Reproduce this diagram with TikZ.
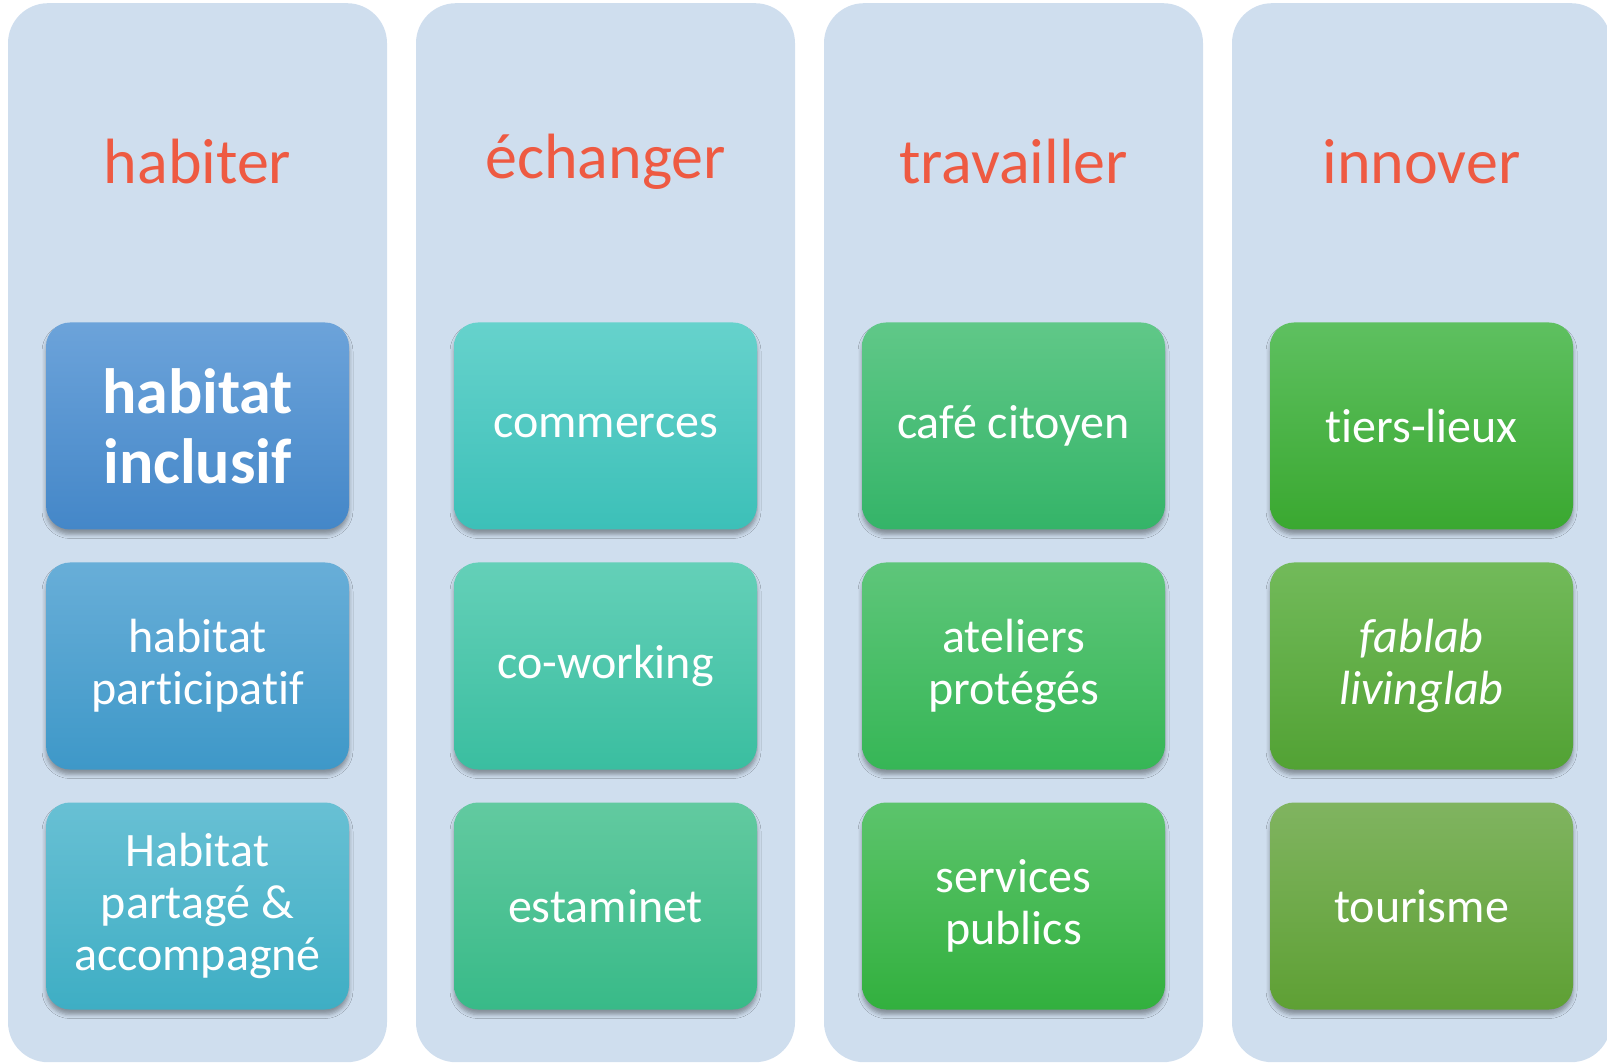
\documentclass[tikz,border=0pt]{standalone}
\usepackage{fontspec}
\setmainfont{Carlito}[RawFeature={-liga;-clig;-calt;-dlig}]
\usepackage{tikz}
\usetikzlibrary{shadows.blur}
\usepackage{xcolor}
\definecolor{fond}{HTML}{CFDEEE}
\definecolor{rouge}{HTML}{EE5A42}
\definecolor{hab1-haut}{HTML}{6CA3DA}\definecolor{hab1-bas}{HTML}{4487C8}
\definecolor{hab2-haut}{HTML}{68AED8}\definecolor{hab2-bas}{HTML}{3E98C8}
\definecolor{hab3-haut}{HTML}{68C0D4}\definecolor{hab3-bas}{HTML}{3EAEC4}
\definecolor{ech1-haut}{HTML}{66D2CC}\definecolor{ech1-bas}{HTML}{3CC0B8}
\definecolor{ech2-haut}{HTML}{64D0B8}\definecolor{ech2-bas}{HTML}{3ABEA0}
\definecolor{ech3-haut}{HTML}{62CAA0}\definecolor{ech3-bas}{HTML}{38BA88}
\definecolor{tra1-haut}{HTML}{60C888}\definecolor{tra1-bas}{HTML}{34B468}
\definecolor{tra2-haut}{HTML}{5EC67A}\definecolor{tra2-bas}{HTML}{36B656}
\definecolor{tra3-haut}{HTML}{5CC46C}\definecolor{tra3-bas}{HTML}{32B03E}
\definecolor{inn1-haut}{HTML}{5EC060}\definecolor{inn1-bas}{HTML}{3AA830}
\definecolor{inn2-haut}{HTML}{72BA5A}\definecolor{inn2-bas}{HTML}{52A234}
\definecolor{inn3-haut}{HTML}{80B460}\definecolor{inn3-bas}{HTML}{5EA034}
\tikzset{
    panneau/.style={fill=fond,rounded corners=20pt,minimum width=189.5pt,minimum height=529.5pt},
    titre/.style={text=rouge,font=\fontsize{32}{38}\selectfont},
    bloc/.style={rounded corners=12pt,minimum width=151.5pt,minimum height=103.5pt,
        text=white,align=center,font=\fontsize{24}{26}\selectfont,
        blur shadow={shadow xshift=0pt,shadow yshift=-2.5pt,shadow blur radius=2pt,shadow opacity=35}},
}
% x, nom, titre
\newcommand{\colonne}[3] {
    \node[panneau] (col-#2) at (#1,532.7) {};
    \node[titre] (titre-#2) at (#1,162) {#3};
}
% [style], nom, x, y, texte
\newcommand{\bloc}[5][] {
    \node[bloc,top color=#2-haut,bottom color=#2-bas,#1] (#2) at (#3,#4) {#5};
}

\begin{document}
\begin{tikzpicture}[x=0.5pt,y=-0.5pt]
        \useasboundingbox (0,0) rectangle (1607,1063);
        \colonne{197.5}{hab}{habiter};
        \colonne{605.5}{ech}{échanger};
        \colonne{1013.5}{tra}{travailler};
        \colonne{1421.5}{inn}{innover};
        \bloc[font=\fontsize{32}{35}\selectfont\bfseries]{hab1}{197.5}{426}{habitat\\inclusif};
        \bloc{hab2}{197.5}{666}{habitat\\participatif};
        \bloc{hab3}{197.5}{906}{Habitat\\partagé \&\\accompagné};
        \bloc{ech1}{605.5}{426}{commerces};
        \bloc{ech2}{605.5}{666}{co-working};
        \bloc{ech3}{605.5}{906}{estaminet};
        \bloc{tra1}{1013.5}{426}{café citoyen};
        \bloc{tra2}{1013.5}{666}{ateliers\\protégés};
        \bloc{tra3}{1013.5}{906}{services\\publics};
        \bloc{inn1}{1421.5}{426}{tiers-lieux};
        \bloc[font=\fontsize{24}{26}\selectfont\itshape]{inn2}{1421.5}{666}{fablab\\livinglab};
        \bloc{inn3}{1421.5}{906}{tourisme};
    \end{tikzpicture}
\end{document}
